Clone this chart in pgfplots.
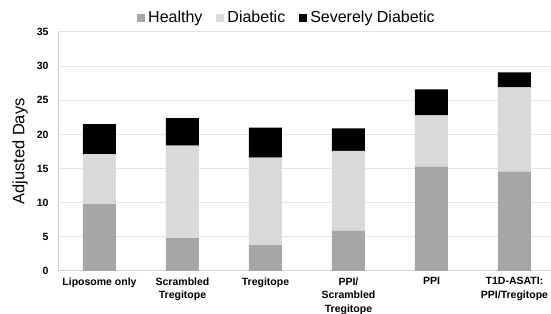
\documentclass[border=0pt]{standalone}
\usepackage{fontspec}
\setmainfont{Liberation Sans}
\usepackage{pgfplots}
\pgfplotsset{compat=1.18}
\usetikzlibrary{calc}
\definecolor{healthy}{HTML}{A6A6A6}
\definecolor{diab}{HTML}{D9D9D9}
\definecolor{gridc}{HTML}{E4E4E4}
\definecolor{axisc}{HTML}{D0D0D0}
\begin{document}
\begin{tikzpicture}
\begin{axis}[name=ax, scale only axis, width=493pt, height=239pt,
  ybar stacked, bar width=33pt,
  xmin=-0.5, xmax=5.44, ymin=0, ymax=35, ytick={0,5,...,35},
  xtick={0,1,2,3,4,5},
  xticklabels={Liposome only, Scrambled\\Tregitope, Tregitope, PPI/\\Scrambled\\Tregitope, PPI, T1D-ASATI:\\PPI/Tregitope},
  xticklabel style={align=center, font=\fontsize{10.5}{13.5}\selectfont\bfseries, yshift=-3pt},
  yticklabel style={font=\fontsize{10.5}{13}\selectfont\bfseries, xshift=-6pt},
  /pgf/number format/assume math mode=true,
  major tick length=0pt,
  ymajorgrids, grid style={gridc, line width=1pt},
  axis x line*=bottom, axis y line*=left,
  x axis line style={axisc, line width=1pt},
  y axis line style={axisc, line width=0.8pt},
  ylabel={Adjusted Days},
  every axis y label/.style={at={(axis description cs:-0.077,0.5)}, rotate=90, anchor=center, font=\fontsize{16.5}{18}\selectfont},
  legend columns=3,
  legend style={at={(axis description cs:0.4645,1.06)}, anchor=center, draw=none, fill=none,
    font=\fontsize{16}{18}\selectfont,
    /tikz/every odd column/.append style={column sep=1pt},
    /tikz/every even column/.append style={column sep=12pt}},
  legend image code/.code={\fill[#1] (0pt,-4pt) rectangle (8pt,4pt);},
]
\addplot+[fill=healthy, draw=none] coordinates {(0,9.8)(1,4.8)(2,3.8)(3,5.9)(4,15.3)(5,14.5)};
\addplot+[fill=diab, draw=none] coordinates {(0,7.3)(1,13.55)(2,12.8)(3,11.7)(4,7.5)(5,12.4)};
\addplot+[fill=black, draw=none] coordinates {(0,4.4)(1,4.05)(2,4.4)(3,3.3)(4,3.8)(5,2.2)};
\legend{Healthy, Diabetic, Severely Diabetic}
\end{axis}
\pgfresetboundingbox
\path ($(ax.south west)+(-58pt,-43pt)$) rectangle ($(ax.north east)+(0pt,32pt)$);
\end{tikzpicture}
\end{document}
